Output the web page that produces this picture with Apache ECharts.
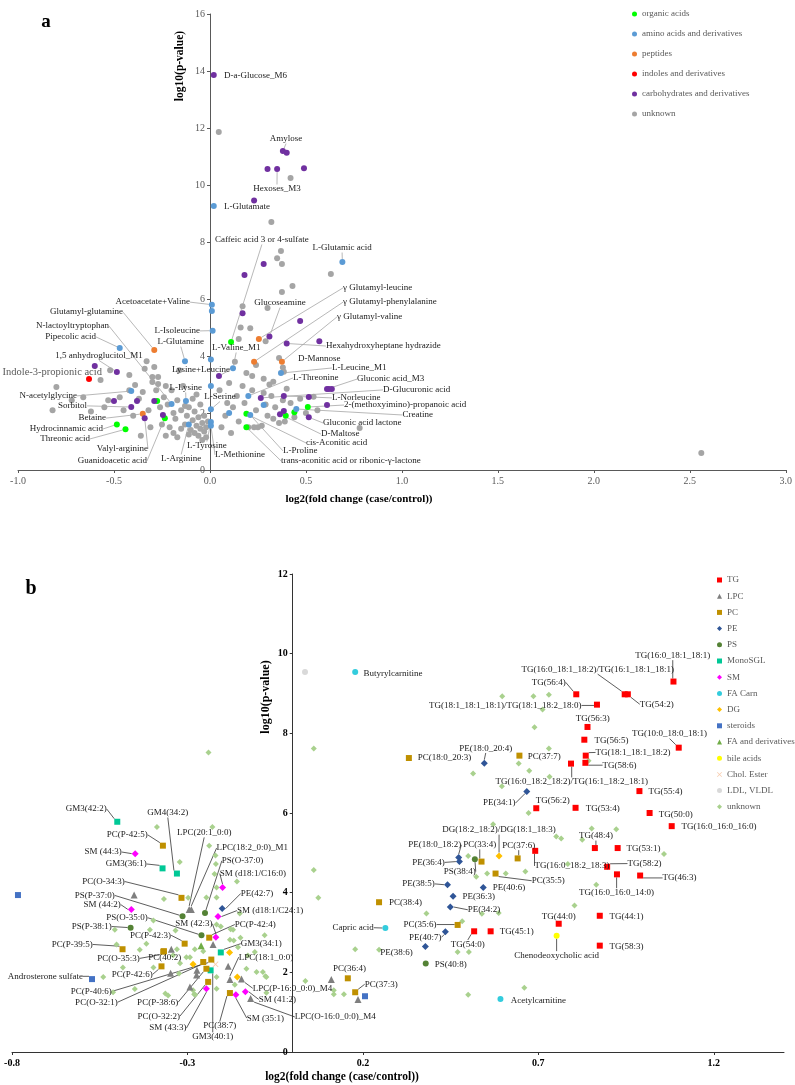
<!DOCTYPE html>
<html><head><meta charset="utf-8">
<script src="https://cdn.jsdelivr.net/npm/echarts@6/dist/echarts.min.js"></script>
<style>html,body{margin:0;padding:0;background:#fff}#c{width:795px;height:1085px}</style>
</head><body><div id="c"></div>
<script>
// ---------------- Panel a data: [log2FC, -log10 p, label] ----------------
const organicAcids = [[0.11,4.49,'Caffeic acid 3 or 4-sulfate'],[-0.275,2.42],[-0.235,1.82,'Guanidoacetic acid'],[-0.485,1.6,'Hydrocinnamic acid'],[-0.44,1.43,'Threonic acid'],[0.19,1.97,'cis-Aconitic acid'],[0.19,1.5,'trans-aconitic acid or ribonic-γ-lactone'],[0.51,2.21,'2-(methoxyimino)-propanoic acid'],[0.44,2.03],[0.395,1.9]];
const aminoAcids = [[0.02,9.26,'L-Glutamate'],[0.69,7.3,'L-Glutamic acid'],[0.01,5.8,'Acetoacetate+Valine'],[0.01,5.58],[0.014,4.89,'L-Isoleucine'],[0.005,3.88],[0.005,2.95],[0.005,2.13,'L-Serine'],[0.005,1.68,'L-Tyrosine'],[0.005,1.55,'L-Methionine'],[-0.47,4.28,'Pipecolic acid'],[-0.13,3.82,'L-Glutamine'],[-0.125,2.42,'L-Lysine'],[-0.11,1.6,'L-Arginine'],[-0.41,2.77,'N-acetylglycine'],[-0.20,2.32,'N-lactoyltryptophan'],[0.12,3.57,'L-Valine_M1'],[0.37,3.4,'L-Leucine_M1'],[0.2,2.6,'L-Threonine'],[0.28,2.28],[0.45,2.14,'Creatine'],[0.21,1.93,'L-Proline'],[0.10,2.0]];
const peptides = [[0.255,4.6,'γ Glutamyl-leucine'],[0.23,3.8,'γ Glutamyl-phenylalanine'],[0.375,3.8,'γ Glutamyl-valine'],[-0.29,4.21,'Glutamyl-glutamine'],[-0.35,1.97,'Betaine']];
const indoles = [[-0.63,3.19,'Indole-3-propionic acid']];
const carbohydrates = [[0.02,13.86,'D-a-Glucose_M6'],[0.38,11.19,'Amylose'],[0.40,11.13],[0.30,10.56],[0.35,10.56,'Hexoses_M3'],[0.49,10.59],[0.23,9.46],[0.28,7.23],[0.18,6.84],[0.17,5.5],[0.47,5.23],[0.31,4.68,'Glucoseamine'],[0.40,4.44,'Hexahydroxyheptane hydrazide'],[0.57,4.52],[0.047,3.3,'Lysine+Leucine'],[0.61,2.84,'Gluconic acid_M3'],[0.62,2.84],[0.635,2.84],[0.265,2.53,'D-Glucuronic acid'],[0.385,2.6,'L-Norleucine'],[0.515,2.56],[0.61,2.28],[0.385,2.07],[0.365,1.96,'D-Maltose'],[0.515,1.85,'Gluconic acid lactone'],[-0.60,3.65],[-0.485,3.44,'1,5 anhydroglucitol_M1'],[-0.50,2.42],[-0.38,2.42],[-0.29,2.42],[-0.41,2.21,'Sorbitol'],[-0.34,1.82,'Valyl-arginine'],[-0.245,1.93]];
const unknownA = [[0.046,11.86],[0.42,10.25],[0.32,8.7],[0.37,7.68],[0.35,7.43],[0.375,7.23],[0.63,6.88],[0.43,6.46],[0.375,6.25],[0.17,5.75],[0.30,5.68],[0.16,5.0],[0.21,4.97],[0.29,4.52],[0.15,4.6],[0.36,3.93,'D-Mannose'],[0.13,3.8],[0.24,3.68],[0.38,3.6],[0.385,3.45],[0.19,3.4],[0.28,3.2],[0.22,3.3],[0.10,3.05],[0.31,3.0],[0.17,2.95],[0.33,3.1],[0.05,2.8],[0.22,2.8],[0.40,2.85],[0.28,2.7],[0.14,2.6],[0.32,2.6],[0.54,2.57],[0.47,2.5],[0.38,2.45],[0.09,2.35],[0.18,2.35],[0.42,2.35],[0.29,2.3],[0.12,2.2],[0.34,2.2],[0.24,2.1],[0.56,2.1],[0.5,2.0],[0.08,1.9],[0.30,1.9],[0.44,1.85],[0.33,1.8],[0.15,1.7],[0.39,1.7],[0.36,1.65],[0.27,1.55],[0.06,1.5],[0.2,1.5],[0.23,1.5],[0.25,1.5],[0.11,1.3],[0.78,1.47],[2.56,0.6],
[-0.80,2.91],[-0.82,2.10],[-0.72,2.45],[-0.66,2.55],[-0.62,2.05],[-0.57,3.16],[-0.55,2.2],[-0.53,2.45],[-0.52,3.5],[-0.47,2.55],[-0.45,2.1],[-0.42,3.33],[-0.42,2.8],[-0.40,1.9],[-0.39,2.98],[-0.37,2.5],[-0.35,2.74],[-0.33,3.82],[-0.34,3.55],[-0.32,2.1],[-0.31,1.5],[-0.30,3.26],[-0.30,3.09],[-0.29,3.61],[-0.28,2.8],[-0.27,3.26],[-0.27,3.02],[-0.26,2.2],[-0.25,1.6],[-0.24,2.55],[-0.23,2.95],[-0.22,2.3],[-0.21,1.5],[-0.20,2.8],[-0.19,2.0],[-0.18,1.8],[-0.17,2.45],[-0.16,3.5],[-0.15,2.1],[-0.14,2.95],[-0.13,1.6],[-0.12,1.9],[-0.11,2.2],[-0.10,1.4],[-0.09,1.75],[-0.08,2.05],[-0.08,1.3],[-0.07,1.55],[-0.06,1.85],[-0.06,1.2],[-0.05,1.45],[-0.05,2.3],[-0.04,1.65],[-0.04,1.05],[-0.03,1.35],[-0.03,1.9],[-0.02,1.5],[-0.02,1.15],[-0.01,1.7],[-0.11,1.25],[-0.13,2.25],[-0.09,2.5],[-0.15,1.45],[-0.07,2.65],[-0.17,1.15],[-0.19,1.3],[-0.36,1.2],[-0.23,1.2]];

// ---------------- Panel b data ----------------
const TG = [[1.085,9.3,'TG(16:0_18:1_18:1)'],[0.946,8.98,'TG(16:0_18:1_18:2)/TG(16:1_18:1_18:1)'],[0.955,8.98,'TG(54:2)'],[0.808,8.98,'TG(56:4)'],[0.867,8.72,'TG(18:1_18:1_18:1)/TG(18:1_18:2_18:0)'],[0.840,8.16,'TG(56:3)'],[0.831,7.84,'TG(56:5)'],[1.10,7.64,'TG(10:0_18:0_18:1)'],[0.835,7.44,'TG(18:1_18:1_18:2)'],[0.834,7.26,'TG(58:6)'],[0.793,7.24,'TG(16:0_18:2_18:2)/TG(16:1_18:2_18:1)'],[0.988,6.55,'TG(55:4)'],[0.694,6.12,'TG(56:2)'],[0.806,6.13,'TG(53:4)'],[1.017,6.0,'TG(50:0)'],[1.080,5.67,'TG(16:0_16:0_16:0)'],[0.861,5.12,'TG(48:4)'],[0.926,5.12,'TG(53:1)'],[0.691,5.05,'TG(16:0_18:2_18:3)'],[0.896,4.65,'TG(58:2)'],[0.924,4.46,'TG(16:0_16:0_14:0)'],[0.990,4.43,'TG(46:3)'],[0.875,3.42,'TG(44:1)'],[0.758,3.22,'TG(44:0)'],[0.564,3.03,'TG(45:1)'],[0.517,3.03,'TG(54:0)'],[0.875,2.67,'TG(58:3)']];
const LPC = [[0.11,1.82],[0.186,1.32],[-0.452,3.94],[-0.295,3.58,'LPC(20:1_0:0)'],[-0.289,3.58,'LPC(18:2_0:0)_M1'],[-0.346,2.58],[-0.227,2.70],[-0.273,2.05],[-0.274,1.93],[-0.184,2.15],[-0.293,1.63],[-0.179,1.82,'LPC(18:1_0:0)'],[-0.146,1.83,'LPC(P-16:0_0:0)_M4'],[-0.12,1.34,'LPC(O-16:0_0:0)_M4'],[-0.348,1.98]];
const PC = [[0.331,7.38,'PC(18:0_20:3)'],[0.646,7.44,'PC(37:7)'],[0.538,4.78,'PC(33:4)'],[0.641,4.86,'PC(37:6)'],[0.578,4.48,'PC(35:5)'],[0.246,3.76,'PC(38:4)'],[0.470,3.19,'PC(35:6)'],[0.157,1.85,'PC(36:4)'],[0.178,1.5,'PC(37:3)'],[-0.37,5.18,'PC(P-42:5)'],[-0.317,3.87,'PC(O-34:3)'],[-0.238,2.87,'PC(P-42:4)'],[-0.308,2.72,'PC(P-42:3)'],[-0.485,2.58,'PC(P-39:5)'],[-0.367,2.53,'PC(40:2)'],[-0.369,2.52,'PC(O-35:3)'],[-0.374,2.15,'PC(P-42:6)'],[-0.232,2.32,'PC(P-40:6)'],[-0.255,2.26,'PC(O-32:1)'],[-0.246,2.09,'PC(P-38:6)'],[-0.241,1.76,'PC(O-32:2)'],[-0.179,1.48,'PC(38:7)']];
const PE = [[0.546,7.25,'PE(18:0_20:4)'],[0.667,6.54,'PE(34:1)'],[0.473,4.88,'PE(18:0_18:2)'],[0.475,4.78,'PE(36:4)'],[0.441,4.2,'PE(38:5)'],[0.543,4.13,'PE(40:6)'],[0.457,3.91,'PE(36:3)'],[0.449,3.64,'PE(34:2)'],[0.435,3.02,'PE(40:7)'],[0.378,2.65,'PE(38:6)'],[-0.201,3.6,'PE(42:7)']];
const PS = [[0.519,4.84,'PS(38:4)'],[0.379,2.22,'PS(40:8)'],[-0.25,3.49,'PS(O-37:0)'],[-0.314,3.41,'PS(P-37:0)'],[-0.462,3.12,'PS(P-38:1)'],[-0.26,2.93,'PS(O-35:0)']];
const MonoSGL = [[-0.50,5.78,'GM3(42:2)'],[-0.371,4.61,'GM3(36:1)'],[-0.33,4.48,'GM4(34:2)'],[-0.205,2.5,'GM3(34:1)'],[-0.234,2.05,'GM3(40:1)']];
const SM = [[-0.449,4.98,'SM (44:3)'],[-0.2,4.13,'SM (d18:1/C16:0)'],[-0.213,3.4,'SM (d18:1/C24:1)'],[-0.46,3.58,'SM (44:2)'],[-0.219,2.88,'SM (42:3)'],[-0.246,1.59,'SM (43:3)'],[-0.162,1.44,'SM (35:1)'],[-0.135,1.51,'SM (41:2)']];
const FACarn = [[0.178,9.54,'Butyrylcarnitine'],[0.264,3.11,'Capric acid'],[0.592,1.33,'Acetylcarnitine']];
const DG = [[0.588,4.92,'DG(18:2_18:2)/DG(18:1_18:3)'],[-0.18,2.5],[-0.284,2.2],[-0.158,1.88]];
const steroids = [[-0.783,3.94],[-0.572,1.83,'Androsterone sulfate'],[0.206,1.4]];
const FAderiv = [[-0.261,2.67]];
const bileAcids = [[0.752,2.92,'Chenodeoxycholic acid']];
const cholEster = [[-0.22,2.2]];
const LDL = [[0.035,9.54]];
const unknownB = [[-0.24,7.52],[-0.387,5.65],[-0.229,5.65],[-0.238,5.18],[-0.22,4.93],[-0.322,4.77],[-0.219,4.72],[-0.223,4.47],[-0.159,4.28],[-0.217,4.13],[-0.246,3.88],[-0.298,3.87],[-0.367,3.84],[-0.217,3.88],[-0.151,3.48],[-0.397,3.3],[-0.217,3.2],[-0.205,3.15],[-0.177,3.08],[-0.17,3.07],[-0.507,3.07],[-0.407,3.07],[-0.334,3.05],[-0.08,2.93],[-0.149,2.87],[-0.179,2.82],[-0.168,2.8],[-0.502,2.7],[-0.417,2.72],[-0.156,2.63],[-0.436,2.57],[-0.33,2.58],[-0.279,2.58],[-0.255,2.53],[-0.108,2.51],[-0.341,2.43],[-0.128,2.42],[-0.293,2.38],[-0.303,2.38],[-0.321,2.23],[-0.484,2.12],[-0.397,2.12],[-0.132,2.09],[-0.085,2.01],[-0.103,2.01],[-0.324,1.97],[-0.078,1.9],[-0.54,1.88],[-0.217,1.88],[-0.075,1.88],[-0.165,1.69],[-0.45,1.58],[-0.284,1.55],[-0.217,1.59],[-0.512,1.5],[-0.075,1.49],[-0.363,1.47],[-0.355,1.42],[-0.281,1.45],[-0.278,1.44],
[0.06,7.62],[0.06,4.57],[0.073,3.87],[0.036,1.78],[0.117,1.55],[0.117,1.45],[0.146,1.45],[0.178,2.58],[0.246,2.57],[0.597,8.93],[0.686,8.93],[0.73,8.97],[0.712,8.6],[0.689,8.15],[0.73,7.62],[0.644,7.24],[0.674,7.06],[0.732,6.91],[0.514,6.99],[0.596,6.67],[0.843,7.31],[0.672,6.0],[0.571,5.72],[0.751,5.41],[0.765,5.36],[0.825,5.33],[0.852,5.61],[0.922,5.59],[1.058,4.97],[0.5,4.92],[0.554,4.48],[0.607,4.48],[0.663,4.53],[0.523,4.4],[0.865,4.2],[0.803,3.68],[0.381,3.48],[0.539,3.47],[0.587,3.49],[0.483,3.28],[0.47,2.51],[0.502,2.51],[0.66,1.61],[0.5,1.44],[0.784,4.72]];

// tick labels
const xTicksA = [-1,-0.5,0,0.5,1,1.5,2,2.5,3];
const xTicksB = [-0.8,-0.3,0.2,0.7,1.2];

// ---------------- label placement (data coords of text anchor, align, leader line) ----------------
const anchorsA = {
'D-a-Glucose_M6':[0.073,13.82,'left',0],'Amylose':[0.396,11.61,'center',1],'Hexoses_M3':[0.349,9.86,'center',1],
'L-Glutamate':[0.073,9.23,'left',0],'Caffeic acid 3 or 4-sulfate':[0.026,8.07,'left',1],'L-Glutamic acid':[0.688,7.79,'center',1],
'Glucoseamine':[0.365,5.86,'center',1],'γ Glutamyl-leucine':[0.693,6.39,'left',1],'γ Glutamyl-phenylalanine':[0.693,5.89,'left',1],
'γ Glutamyl-valine':[0.661,5.37,'left',1],'Hexahydroxyheptane hydrazide':[0.604,4.35,'left',1],'D-Mannose':[0.458,3.89,'left',0],
'L-Leucine_M1':[0.635,3.58,'left',1],'L-Threonine':[0.432,3.23,'left',1],'Gluconic acid_M3':[0.766,3.19,'left',1],
'D-Glucuronic acid':[0.901,2.81,'left',1],'L-Norleucine':[0.635,2.53,'left',1],'2-(methoxyimino)-propanoic acid':[0.698,2.28,'left',1],
'Creatine':[1.161,1.93,'right',1],'Gluconic acid lactone':[0.589,1.65,'left',1],'D-Maltose':[0.578,1.26,'left',1],
'cis-Aconitic acid':[0.5,0.95,'left',1],'L-Proline':[0.38,0.67,'left',1],'trans-aconitic acid or ribonic-γ-lactone':[0.37,0.32,'left',1],
'L-Methionine':[0.026,0.53,'left',1],'L-Tyrosine':[-0.12,0.84,'left',1],'L-Arginine':[-0.255,0.39,'left',1],
'Guanidoacetic acid':[-0.328,0.32,'right',1],'Valyl-arginine':[-0.323,0.74,'right',1],'Threonic acid':[-0.625,1.09,'right',1],
'Hydrocinnamic acid':[-0.557,1.44,'right',1],'Betaine':[-0.542,1.82,'right',1],'Sorbitol':[-0.64,2.25,'right',1],
'N-acetylglycine':[-0.693,2.6,'right',1],'Indole-3-propionic acid':[-0.563,3.44,'right',0],'1,5 anhydroglucitol_M1':[-0.35,4.0,'right',1],
'Pipecolic acid':[-0.594,4.67,'right',1],'N-lactoyltryptophan':[-0.526,5.05,'right',1],'Glutamyl-glutamine':[-0.453,5.54,'right',1],
'Acetoacetate+Valine':[-0.104,5.89,'right',1],'L-Isoleucine':[-0.052,4.88,'right',1],'L-Glutamine':[-0.031,4.49,'right',1],
'L-Lysine':[-0.042,2.88,'right',1],'L-Serine':[-0.03,2.56,'left',1],'Lysine+Leucine':[-0.198,3.51,'left',1],'L-Valine_M1':[0.01,4.28,'left',1]
};
const anchorsB = {
'TG(16:0_18:1_18:1)':[1.083,9.95,'center',1],'TG(16:0_18:1_18:2)/TG(16:1_18:1_18:1)':[0.869,9.6,'center',1],'TG(56:4)':[0.778,9.28,'right',1],
'TG(54:2)':[0.989,8.73,'left',1],'TG(18:1_18:1_18:1)/TG(18:1_18:2_18:0)':[0.823,8.7,'right',1],'TG(56:3)':[0.855,8.38,'center',0],
'TG(56:5)':[0.86,7.82,'left',0],'TG(10:0_18:0_18:1)':[1.074,7.98,'center',1],'TG(18:1_18:1_18:2)':[0.863,7.52,'left',1],
'TG(58:6)':[0.883,7.2,'left',1],'TG(16:0_18:2_18:2)/TG(16:1_18:2_18:1)':[0.795,6.78,'center',1],'TG(55:4)':[1.014,6.53,'left',0],
'TG(56:2)':[0.741,6.3,'center',0],'TG(53:4)':[0.835,6.1,'left',0],'TG(50:0)':[1.043,5.97,'left',0],'TG(16:0_16:0_16:0)':[1.108,5.65,'left',0],
'TG(48:4)':[0.864,5.42,'center',1],'TG(53:1)':[0.951,5.1,'left',0],'TG(16:0_18:2_18:3)':[0.689,4.67,'left',1],'TG(58:2)':[0.954,4.73,'left',1],
'TG(16:0_16:0_14:0)':[0.923,4.0,'center',1],'TG(46:3)':[1.054,4.37,'left',1],'TG(44:1)':[0.903,3.4,'left',0],'TG(44:0)':[0.758,3.4,'center',0],
'TG(45:1)':[0.59,3.03,'left',0],'TG(54:0)':[0.499,2.7,'center',1],'TG(58:3)':[0.903,2.65,'left',0],'Chenodeoxycholic acid':[0.752,2.42,'center',1],
'Acetylcarnitine':[0.621,1.3,'left',0],'Butyrylcarnitine':[0.202,9.5,'left',0],'Capric acid':[0.231,3.12,'right',1],'PC(36:4)':[0.162,2.1,'center',0],
'PC(37:3)':[0.205,1.7,'left',1],'PC(38:4)':[0.274,3.75,'left',0],'PC(18:0_20:3)':[0.356,7.38,'left',0],'PC(37:7)':[0.67,7.42,'left',0],
'PE(18:0_20:4)':[0.55,7.62,'center',1],'PE(34:1)':[0.635,6.25,'right',1],'DG(18:2_18:2)/DG(18:1_18:3)':[0.588,5.57,'center',1],
'PE(18:0_18:2)':[0.405,5.2,'center',1],'PC(33:4)':[0.533,5.2,'center',1],'PC(37:6)':[0.644,5.18,'center',1],'PE(36:4)':[0.433,4.76,'right',1],
'PS(38:4)':[0.476,4.53,'center',1],'PC(35:5)':[0.681,4.3,'left',1],'PE(38:5)':[0.405,4.22,'right',1],'PE(40:6)':[0.57,4.12,'left',0],
'PE(36:3)':[0.484,3.9,'left',0],'PE(34:2)':[0.499,3.57,'left',1],'PC(35:6)':[0.41,3.2,'right',1],'PE(40:7)':[0.424,2.88,'right',1],
'PE(38:6)':[0.342,2.5,'right',0],'PS(40:8)':[0.405,2.2,'left',0],
'GM3(42:2)':[-0.53,6.1,'right',1],'GM4(34:2)':[-0.356,6.0,'center',1],'PC(P-42:5)':[-0.413,5.45,'right',1],'LPC(20:1_0:0)':[-0.33,5.5,'left',1],
'LPC(18:2_0:0)_M1':[-0.217,5.12,'left',1],'SM (44:3)':[-0.487,5.02,'right',1],'GM3(36:1)':[-0.416,4.72,'right',1],'PS(O-37:0)':[-0.202,4.8,'left',1],
'SM (d18:1/C16:0)':[-0.208,4.48,'left',1],'PC(O-34:3)':[-0.479,4.28,'right',1],'PS(P-37:0)':[-0.507,3.93,'right',1],'PE(42:7)':[-0.148,3.98,'left',1],
'SM (d18:1/C24:1)':[-0.159,3.55,'left',1],'SM (44:2)':[-0.49,3.7,'right',1],'SM (42:3)':[-0.282,3.22,'center',1],'PS(O-35:0)':[-0.413,3.37,'right',1],
'PS(P-38:1)':[-0.516,3.15,'right',1],'PC(P-42:4)':[-0.165,3.2,'left',1],'PC(P-42:3)':[-0.405,2.93,'center',1],'PC(P-39:5)':[-0.57,2.7,'right',1],
'GM3(34:1)':[-0.148,2.72,'left',1],'PC(O-35:3)':[-0.436,2.35,'right',1],'PC(40:2)':[-0.365,2.37,'center',1],'LPC(18:1_0:0)':[-0.154,2.38,'left',1],
'PC(P-42:6)':[-0.399,1.95,'right',1],'Androsterone sulfate':[-0.598,1.9,'right',1],'LPC(P-16:0_0:0)_M4':[-0.114,1.6,'left',1],
'SM (41:2)':[-0.097,1.32,'left',1],'PC(P-40:6)':[-0.516,1.52,'right',1],'PC(O-32:1)':[-0.499,1.25,'right',1],'PC(P-38:6)':[-0.385,1.25,'center',1],
'PC(O-32:2)':[-0.382,0.9,'center',1],'SM (35:1)':[-0.131,0.85,'left',1],'LPC(O-16:0_0:0)_M4':[0.006,0.88,'left',1],'SM (43:3)':[-0.356,0.6,'center',1],
'PC(38:7)':[-0.208,0.65,'center',1],'GM3(40:1)':[-0.228,0.38,'center',1]
};

const FONT = '"Liberation Serif","Times New Roman",serif';
const G = [
  {left:18, top:14, width:768, height:456, xmin:-1, xmax:3, ymin:0, ymax:16},
  {left:12, top:574, width:772, height:478, xmin:-0.8, xmax:1.4, ymin:0, ymax:12}
];
function toPx(gi, x, y){ const g=G[gi]; return [g.left+(x-g.xmin)/(g.xmax-g.xmin)*g.width, g.top+(1-(y-g.ymin)/(g.ymax-g.ymin))*g.height]; }
// y axes sit on x = 0: shift them right from the grid's left edge
function zeroOffset(gi){ const g=G[gi]; return -(0-g.xmin)/(g.xmax-g.xmin)*g.width; }

const X_PATH = 'path://M0,1L1,0L5,4L9,0L10,1L6,5L10,9L9,10L5,6L1,10L0,9L4,5Z';

function mk(name, arr, gi, symbol, color, size){
  const anchors = gi===0 ? anchorsA : anchorsB;
  return {
    type:'scatter', name, xAxisIndex:gi, yAxisIndex:gi, symbol, symbolSize:size,
    itemStyle:{color, opacity:1}, silent:true,
    data: arr.map(d => {
      if (d[2]) {
        const a = anchors[d[2]] || [d[0],d[1],'left',0];
        const item = {value:[d[0],d[1]], name:d[2], label:{show:true}, labelLine:{show: !!a[3]}};
        if (d[2]==='Indole-3-propionic acid') item.label = {show:true, fontSize:10.5, color:'#595959'};
        return item;
      }
      return {value:[d[0],d[1]]};
    }),
    label:{show:false, formatter:'{b}', fontSize:9, fontFamily:FONT, color:'#1a1a1a'},
    labelLine:{show:true, lineStyle:{color: gi===0 ? '#a6a6a6' : '#333333', width: 0.8}},
    labelLayout: function(p){
      const d = arr[p.dataIndex]; if (!d || !d[2]) return {};
      const a = anchors[d[2]]; if (!a) return {};
      const pt = toPx(gi, a[0], a[1]);
      return {x:pt[0], y:pt[1], align:a[2], verticalAlign:'middle'};
    },
    z: 3
  };
}

const series = [
  mk('unknown', unknownA, 0, 'circle', '#a5a5a5', 6),
  mk('organic acids', organicAcids, 0, 'circle', '#00ff00', 6),
  mk('amino acids and derivatives', aminoAcids, 0, 'circle', '#5b9bd5', 6),
  mk('peptides', peptides, 0, 'circle', '#ed7d31', 6),
  mk('indoles and derivatives', indoles, 0, 'circle', '#ff0000', 6),
  mk('carbohydrates and derivatives', carbohydrates, 0, 'circle', '#7030a0', 6),
  mk('unknown ', unknownB, 1, 'diamond', '#a9d18e', 6),
  mk('LDL, VLDL', LDL, 1, 'circle', '#d9d9d9', 6),
  mk('Chol. Ester', cholEster, 1, X_PATH, '#f8cbad', 6),
  mk('bile acids', bileAcids, 1, 'circle', '#ffff00', 6),
  mk('FA and derivatives', FAderiv, 1, 'triangle', '#70ad47', 7),
  mk('steroids', steroids, 1, 'rect', '#4472c4', 6),
  mk('DG', DG, 1, 'diamond', '#ffc000', 7),
  mk('FA Carn', FACarn, 1, 'circle', '#33ccdd', 6),
  mk('SM', SM, 1, 'diamond', '#ff00ff', 7),
  mk('MonoSGL', MonoSGL, 1, 'rect', '#00c896', 6),
  mk('PS', PS, 1, 'circle', '#548235', 6),
  mk('PE', PE, 1, 'diamond', '#2f5597', 7),
  mk('PC', PC, 1, 'rect', '#bf9000', 6),
  mk('LPC', LPC, 1, 'triangle', '#7f7f7f', 7),
  mk('TG', TG, 1, 'rect', '#ff0000', 6)
];

const legendA = ['organic acids','amino acids and derivatives','peptides','indoles and derivatives','carbohydrates and derivatives','unknown'];
const legendB = [['TG','rect'],['LPC','triangle'],['PC','rect'],['PE','diamond'],['PS','circle'],['MonoSGL','rect'],['SM','diamond'],['FA Carn','circle'],['DG','diamond'],['steroids','rect'],['FA and derivatives','triangle'],['bile acids','circle'],['Chol. Ester',X_PATH],['LDL, VLDL','circle'],['unknown ','diamond']];

const option = {
  animation:false,
  backgroundColor:'#ffffff',
  textStyle:{fontFamily:FONT},
  grid:[
    {left:G[0].left, top:G[0].top, width:G[0].width, height:G[0].height},
    {left:G[1].left, top:G[1].top, width:G[1].width, height:G[1].height}
  ],
  xAxis:[
    {type:'value', gridIndex:0, min:-1, max:3, splitLine:{show:false},
      axisLine:{show:true, onZero:false, lineStyle:{color:'#595959', width:1}},
      axisLabel:{margin:6, fontSize:10, color:'#595959', fontFamily:FONT, customValues:xTicksA, formatter:v=>v.toFixed(1)},
      axisTick:{show:true, length:3, customValues:xTicksA, lineStyle:{color:'#595959'}}},
    {type:'value', gridIndex:1, min:-0.8, max:1.4, splitLine:{show:false},
      axisLine:{show:true, onZero:false, lineStyle:{color:'#333333', width:1}},
      axisLabel:{margin:6, fontSize:10, fontWeight:'bold', color:'#000', fontFamily:FONT, customValues:xTicksB, formatter:v=>v.toFixed(1)},
      axisTick:{show:true, length:3, customValues:xTicksB, lineStyle:{color:'#333'}}}
  ],
  yAxis:[
    {type:'value', gridIndex:0, min:0, max:16, interval:2, splitLine:{show:false}, offset:zeroOffset(0),
      axisLine:{show:true, onZero:false, lineStyle:{color:'#595959', width:1}},
      axisTick:{show:true, length:3, lineStyle:{color:'#595959'}},
      axisLabel:{margin:5, fontSize:10, color:'#595959', fontFamily:FONT}},
    {type:'value', gridIndex:1, min:0, max:12, interval:2, splitLine:{show:false}, offset:zeroOffset(1),
      axisLine:{show:true, onZero:false, lineStyle:{color:'#333333', width:1}},
      axisLabel:{margin:5, fontSize:10, fontWeight:'bold', color:'#000', fontFamily:FONT},
      axisTick:{show:true, length:3, lineStyle:{color:'#333'}}}
  ],
  legend:[
    {data:legendA.map(n=>({name:n, icon:'circle'})), orient:'vertical', left:627, top:2.5, itemWidth:5, itemHeight:5, itemGap:7,
      selectedMode:false, textStyle:{fontSize:9, color:'#595959', fontFamily:FONT, lineHeight:13}},
    {data:legendB.map(n=>({name:n[0], icon:n[1]})), orient:'vertical', left:712, top:568.5, itemWidth:5, itemHeight:5, itemGap:3.2,
      selectedMode:false, textStyle:{fontSize:9, color:'#595959', fontFamily:FONT, lineHeight:13}}
  ],
  graphic:[
    {type:'text', x:46, y:22, style:{text:'a', font:'bold 19px '+FONT, fill:'#000', textAlign:'center', textVerticalAlign:'middle'}},
    {type:'text', x:31, y:589, style:{text:'b', font:'bold 20px '+FONT, fill:'#000', textAlign:'center', textVerticalAlign:'middle'}},
    {type:'text', x:180, y:66, rotation:Math.PI/2, style:{text:'log10(p-value)', font:'bold 11.5px '+FONT, fill:'#000', textAlign:'center', textVerticalAlign:'middle'}},
    {type:'text', x:359, y:499, style:{text:'log2(fold change (case/control))', font:'bold 11px '+FONT, fill:'#000', textAlign:'center', textVerticalAlign:'middle'}},
    {type:'text', x:266, y:697, rotation:Math.PI/2, style:{text:'log10(p-value)', font:'bold 12px '+FONT, fill:'#000', textAlign:'center', textVerticalAlign:'middle'}},
    {type:'text', x:342, y:1077, style:{text:'log2(fold change (case/control))', font:'bold 11.5px '+FONT, fill:'#000', textAlign:'center', textVerticalAlign:'middle'}}
  ],
  series
};

const chart = echarts.init(document.getElementById('c'), null, {renderer:'canvas'});
chart.setOption(option);
</script>
</body></html>
